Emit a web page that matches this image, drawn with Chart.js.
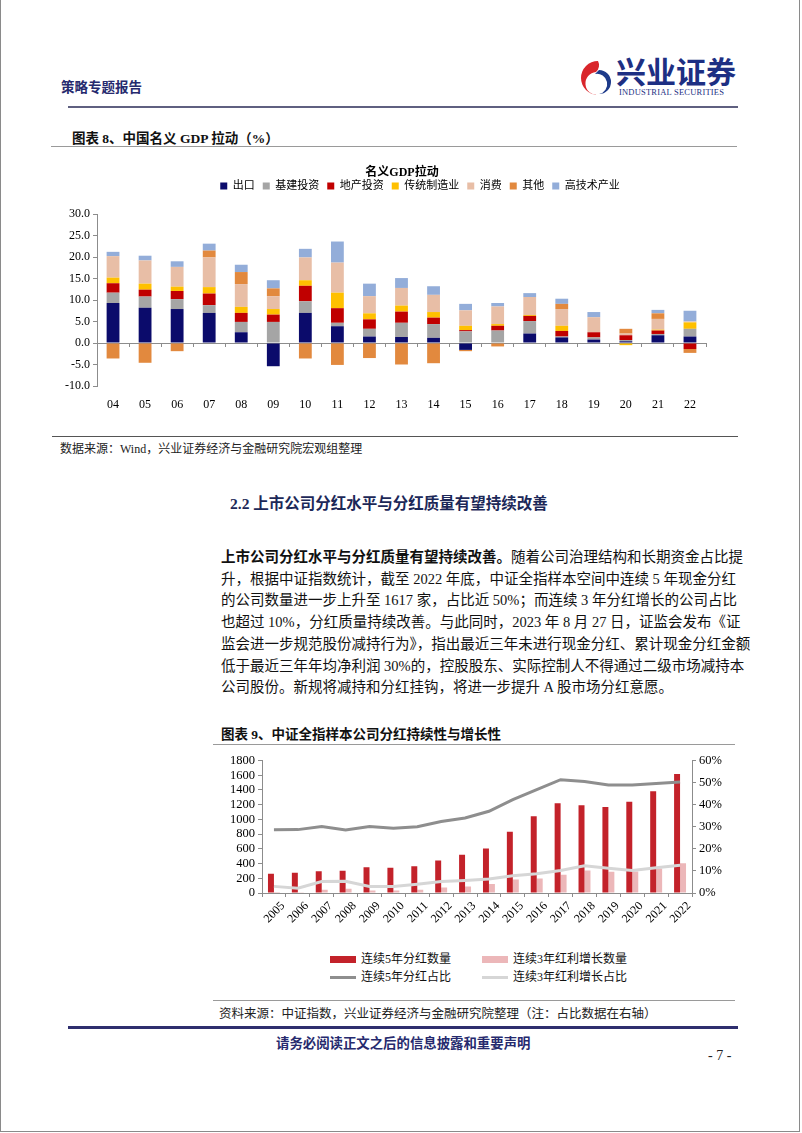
<!DOCTYPE html>
<html lang="zh-CN">
<head>
<meta charset="utf-8">
<title>策略专题报告 - 7</title>
<script src="https://cdn.jsdelivr.net/npm/chart.js@4.4.1/dist/chart.umd.min.js"></script>
<style>
  html, body { margin: 0; padding: 0; background: #fff; }
  body {
    width: 802px; height: 1133px; position: relative; overflow: hidden;
    font-family: "Liberation Serif", "Noto Sans CJK SC", serif; color: #111;
  }
  .abs { position: absolute; white-space: nowrap; }
  .frame { position: absolute; left: 0; top: -2px; width: 798px; height: 1132px; border: 1px solid #8a8a8a; }
  .rule { position: absolute; height: 1px; background: #9a9a9a; }
  .navy { color: #262a6e; }
  .cap { font-size: 13.5px; font-weight: bold; color: #111; }
  .src { font-size: 12px; color: #222; }
  .para { position: absolute; left: 221px; top: 547px; width: 515px; font-size: 14.5px; line-height: 21.7px; color: #111; }
  .para div { text-align: justify; text-align-last: justify; white-space: nowrap; }
  .para div.last { text-align-last: left; }
  #gdpChart { position: absolute; left: 40px; top: 158px; }
  #divChart { position: absolute; left: 215px; top: 750px; }
  #divLegend {
    position: absolute; left: 330px; top: 952px;
    display: grid; grid-template-columns: 152px 160px; row-gap: 4px;
    font-size: 12px; line-height: 14px; color: #111;
  }
  .lg-item { display: flex; align-items: center; white-space: nowrap; }
  .lg-mark { display: inline-block; width: 26px; margin-right: 5px; }
</style>
</head>
<body>
<div class="frame"></div>

<!-- page header -->
<div class="abs navy" style="left:61px;top:76px;font-size:13.5px;font-weight:bold;">策略专题报告</div>
<svg class="abs" style="left:577px;top:59px" width="36" height="38" viewBox="0 0 36 38">
  <path d="M21 2 A17 17 0 1 0 21 36 A11 11 0 0 1 19 13 A9 9 0 0 0 21 2 Z" fill="#d9262b"/>
  <path d="M22 11 A12 12 0 0 1 22 35 A10 10 0 0 0 18 15 Z" fill="#1d3a8a"/>
</svg>
<div class="abs" style="left:616px;top:58px;font-size:30px;line-height:30px;font-weight:bold;color:#1d2f83;">兴业证券</div>
<div class="abs" style="left:619px;top:88px;font-size:8.5px;line-height:9px;color:#1d2f83;letter-spacing:0.2px;">INDUSTRIAL SECURITIES</div>
<div class="abs" style="left:68px;top:106px;width:670px;height:2px;background:#5f6080;"></div>

<!-- figure 8 -->
<div class="abs cap" style="left:72px;top:127px;">图表 8、中国名义 GDP 拉动（%）</div>
<div class="rule" style="left:51px;top:146px;width:686px;"></div>
<canvas id="gdpChart" width="700" height="262"></canvas>
<div class="rule" style="left:52px;top:436px;width:686px;background:#555;"></div>
<div class="abs src" style="left:60px;top:439px;">数据来源：Wind，兴业证券经济与金融研究院宏观组整理</div>

<!-- section text -->
<div class="abs" style="left:230px;top:491px;font-size:15.5px;font-weight:bold;color:#1c2858;">2.2 上市公司分红水平与分红质量有望持续改善</div>
<div class="para">
  <div><b>上市公司分红水平与分红质量有望持续改善。</b>随着公司治理结构和长期资金占比提</div>
  <div>升，根据中证指数统计，截至 2022 年底，中证全指样本空间中连续 5 年现金分红</div>
  <div>的公司数量进一步上升至 1617 家，占比近 50%；而连续 3 年分红增长的公司占比</div>
  <div>也超过 10%，分红质量持续改善。与此同时，2023 年 8 月 27 日，证监会发布《证</div>
  <div>监会进一步规范股份减持行为》，指出最近三年未进行现金分红、累计现金分红金额</div>
  <div>低于最近三年年均净利润 30%的，控股股东、实际控制人不得通过二级市场减持本</div>
  <div class="last">公司股份。新规将减持和分红挂钩，将进一步提升 A 股市场分红意愿。</div>
</div>

<!-- figure 9 -->
<div class="abs cap" style="left:221px;top:723px;">图表 9、中证全指样本公司分红持续性与增长性</div>
<div class="rule" style="left:213px;top:744px;width:522px;"></div>
<canvas id="divChart" width="520" height="185"></canvas>
<div id="divLegend"></div>
<div class="rule" style="left:213px;top:1000px;width:522px;"></div>
<div class="abs src" style="left:219px;top:1003px;font-size:12.5px;">资料来源：中证指数，兴业证券经济与金融研究院整理（注：占比数据在右轴）</div>

<!-- footer -->
<div class="abs" style="left:68px;top:1026px;width:670px;height:3px;background:#2e2e6e;"></div>
<div class="abs navy" style="left:276px;top:1032px;font-size:13.4px;font-weight:bold;">请务必阅读正文之后的信息披露和重要声明</div>
<div class="abs" style="left:708px;top:1048px;font-size:14px;color:#222;">- 7 -</div>

<script>
// ============================================================
// 图表 8：中国名义 GDP 拉动（堆积柱）
// 图表 9：中证全指样本公司分红持续性与增长性（柱 + 折线双轴）
// ============================================================

const GDP_YEARS = ['04','05','06','07','08','09','10','11','12','13','14','15','16','17','18','19','20','21','22'];
const GDP_NAMES = ['出口','基建投资','地产投资','传统制造业','消费','其他','高技术产业'];
const GDP_EXPORT  = [9.3, 8.2, 7.9, 7.0, 2.5, -5.4, 7.0, 3.9, 1.5, 1.4, 1.2, -1.6, 0, 2.2, 1.3, 0.8, 0.4, 1.8, 1.5];
const GDP_INFRA   = [2.4, 2.6, 2.3, 1.8, 2.4, 4.9, 2.7, 0.8, 1.8, 3.3, 3.2, 2.7, 2.9, 2.9, 0.2, 0.5, 0.3, 0.3, 1.8];
const GDP_REALTY  = [2.2, 1.6, 1.9, 2.7, 2.1, 1.7, 3.6, 3.4, 2.2, 2.6, 1.5, 0.3, 1.1, 1.2, 1.3, 1.2, 1.1, 0.8, -1.4];
const GDP_MANUF   = [1.3, 1.4, 1.0, 1.5, 1.4, 1.3, 1.3, 3.6, 1.4, 1.4, 1.3, 1.0, 0.4, 0.2, 1.2, 0, -0.5, 0.2, 1.5];
const GDP_CONSUME = [5.0, 5.4, 4.6, 6.9, 5.3, 3.0, 5.3, 7.0, 4.0, 4.1, 4.0, 3.6, 4.1, 4.2, 3.9, 3.5, 0.4, 2.5, 0.2];
const GDP_OTHER   = [-3.6, -4.6, -1.9, 1.6, 2.8, 1.8, -3.6, -5.1, -3.5, -5.0, -4.7, -0.3, -0.8, 0, 1.2, 0, 1.1, 1.3, -0.9];
const GDP_HITECH  = [1.0, 1.1, 1.3, 1.6, 1.7, 1.9, 2.0, 4.9, 2.9, 2.3, 2.0, 1.5, 0.8, 0.9, 1.2, 1.2, 0, 0.8, 2.5];

const DIV_YEARS = ['2005','2006','2007','2008','2009','2010','2011','2012','2013','2014','2015','2016','2017','2018','2019','2020','2021','2022'];
const DIV_NAMES = ['连续5年分红数量','连续3年红利增长数量','连续5年分红占比','连续3年红利增长占比'];
const DIV5_COUNT  = [260, 275, 297, 301, 351, 342, 365, 441, 518, 603, 833, 1044, 1220, 1193, 1170, 1238, 1382, 1617];
const GROW3_COUNT = [12, 10, 45, 58, 35, 35, 45, 76, 90, 121, 185, 198, 248, 306, 288, 293, 333, 405];
const DIV5_SHARE  = [28.6, 28.7, 30.1, 28.5, 30.1, 29.3, 30.0, 32.4, 34.0, 37.0, 42.3, 46.8, 51.3, 50.5, 48.9, 48.9, 49.6, 50.3];
const GROW3_SHARE = [3.0, 2.2, 5.2, 5.3, 3.0, 3.0, 4.0, 5.2, 5.7, 6.3, 7.8, 8.7, 10.2, 12.3, 11.2, 10.2, 11.4, 12.6];

const GDP_PALETTE = ['#0b0b6b','#a5a5a5','#c00000','#ffc000','#e8bea6','#e2893e','#93add9'];
const DIV_PALETTE = ['#c3222a','#ecb7b9','#8e8e8e','#d6d6d6'];
const AXIS_GREY = '#8c8c8c';

Chart.defaults.font.family = '"Liberation Serif", "Noto Sans CJK SC", serif';
Chart.defaults.color = '#000';
Chart.defaults.animation = false;

// room under the legend, and a sideways nudge of the title / legend blocks
const headerLayout = {
  id: 'headerLayout',
  beforeLayout(chart, args, opts) {
    const legend = chart.legend;
    if (!legend || legend._gapPatched) return;
    const fit = legend.fit;
    legend.fit = function () {
      fit.call(this);
      this.height += opts.gap || 0;
    };
    legend._gapPatched = true;
  },
  afterLayout(chart, args, opts) {
    [['titleBlock', opts.titleShift], ['legend', opts.legendShift]].forEach(([key, dx]) => {
      const box = chart[key];
      if (box && dx) { box.left += dx; box.right += dx; }
    });
  }
};

// two-column html legend for the dividend chart, kept in dataset order
const htmlLegend = {
  id: 'htmlLegend',
  afterUpdate(chart) {
    const box = document.getElementById('divLegend');
    box.innerHTML = '';
    chart.options.plugins.legend.labels.generateLabels(chart)
      .sort((a, b) => a.datasetIndex - b.datasetIndex)
      .forEach(item => {
        const ds = chart.data.datasets[item.datasetIndex];
        const cell = document.createElement('div');
        cell.className = 'lg-item';
        const mark = document.createElement('span');
        mark.className = 'lg-mark';
        mark.style.height = ds.type === 'line' ? '3px' : '7px';
        mark.style.background = ds.type === 'line' ? ds.borderColor : ds.backgroundColor;
        const txt = document.createElement('span');
        txt.textContent = item.text;
        cell.appendChild(mark);
        cell.appendChild(txt);
        box.appendChild(cell);
      });
  }
};

function renderGdpChart() {
  const ctx = document.getElementById('gdpChart');
  const series = [GDP_EXPORT, GDP_INFRA, GDP_REALTY, GDP_MANUF, GDP_CONSUME, GDP_OTHER, GDP_HITECH];

  new Chart(ctx, {
    type: 'bar',
    data: {
      labels: GDP_YEARS,
      datasets: series.map((vals, i) => ({
        label: GDP_NAMES[i],
        data: vals,
        backgroundColor: GDP_PALETTE[i],
        borderWidth: 0,
        barPercentage: 0.4,
        categoryPercentage: 1
      }))
    },
    options: {
      responsive: false,
      layout: { padding: { top: 8, right: 34, left: 0, bottom: 0 } },
      plugins: {
        title: {
          display: true,
          text: '名义GDP拉动',
          color: '#000',
          font: { size: 12, weight: 'bold' },
          padding: { top: 0, bottom: -8 }
        },
        legend: {
          position: 'top',
          labels: { boxWidth: 7, boxHeight: 7, padding: 8, color: '#000', font: { size: 11 } }
        },
        headerLayout: { gap: 12.6, titleShift: 29, legendShift: 47 },
        tooltip: { enabled: false }
      },
      scales: {
        x: {
          stacked: true,
          grid: { display: false, drawTicks: false },
          border: { display: false },
          ticks: { padding: 12, font: { size: 12 } },
          afterFit: s => { s.height = 34; }
        },
        // axis line across zero with the category tick marks
        x0: {
          type: 'category',
          axis: 'x',
          position: { y: 0 },
          offset: true,
          ticks: { display: false },
          grid: { offset: true, drawOnChartArea: false, tickLength: 3, color: AXIS_GREY },
          border: { color: AXIS_GREY }
        },
        y: {
          stacked: true,
          min: -10,
          max: 30,
          ticks: { stepSize: 5, padding: 3, font: { size: 12 }, callback: v => v.toFixed(1) },
          grid: { drawOnChartArea: false, tickLength: 4, color: AXIS_GREY },
          border: { color: AXIS_GREY },
          afterFit: s => { s.width = 57; }
        }
      }
    },
    plugins: [headerLayout]
  });
}

function renderDividendChart() {
  const ctx = document.getElementById('divChart');

  new Chart(ctx, {
    data: {
      labels: DIV_YEARS,
      datasets: [
        { type: 'bar', label: DIV_NAMES[0], data: DIV5_COUNT, backgroundColor: DIV_PALETTE[0], yAxisID: 'y', order: 2 },
        { type: 'bar', label: DIV_NAMES[1], data: GROW3_COUNT, backgroundColor: DIV_PALETTE[1], yAxisID: 'y', order: 2 },
        { type: 'line', label: DIV_NAMES[2], data: DIV5_SHARE, borderColor: DIV_PALETTE[2], backgroundColor: DIV_PALETTE[2],
          borderWidth: 3, pointRadius: 0, tension: 0, yAxisID: 'y1', order: 1 },
        { type: 'line', label: DIV_NAMES[3], data: GROW3_SHARE, borderColor: DIV_PALETTE[3], backgroundColor: DIV_PALETTE[3],
          borderWidth: 3, pointRadius: 0, tension: 0, yAxisID: 'y1', order: 1 }
      ]
    },
    options: {
      responsive: false,
      layout: { padding: { top: 10, right: 0, left: 0, bottom: 0 } },
      datasets: { bar: { categoryPercentage: 0.5, barPercentage: 1, borderWidth: 0 } },
      plugins: {
        legend: { display: false },
        tooltip: { enabled: false }
      },
      scales: {
        x: {
          grid: { offset: true, drawOnChartArea: false, tickLength: 4, color: AXIS_GREY },
          border: { color: AXIS_GREY },
          ticks: { autoSkip: false, minRotation: 45, maxRotation: 45, labelOffset: 9, padding: 2, font: { size: 12 } },
          afterFit: s => { s.height = 42; }
        },
        y: {
          position: 'left',
          min: 0,
          max: 1800,
          ticks: { stepSize: 200, autoSkip: false, padding: 3, font: { size: 12.5 }, callback: v => String(v) },
          grid: { drawOnChartArea: false, tickLength: 4, color: AXIS_GREY },
          border: { color: AXIS_GREY },
          afterFit: s => { s.width = 47; }
        },
        y1: {
          position: 'right',
          min: 0,
          max: 60,
          ticks: { stepSize: 10, autoSkip: false, padding: 3, font: { size: 12.5 }, callback: v => v + '%' },
          grid: { drawOnChartArea: false, tickLength: 4, color: AXIS_GREY },
          border: { color: AXIS_GREY },
          afterFit: s => { s.width = 43; }
        }
      }
    },
    plugins: [htmlLegend]
  });
}

renderGdpChart();
renderDividendChart();
</script>
</body>
</html>
